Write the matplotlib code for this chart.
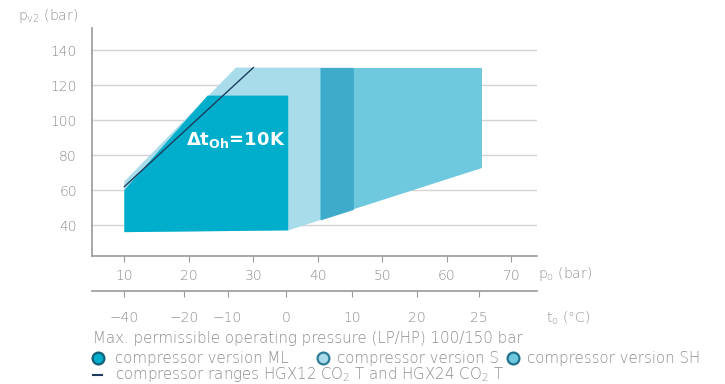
import numpy as np
import matplotlib.pyplot as plt
from matplotlib.lines import Line2D

plt.rcParams['font.family'] = ['DejaVu Sans']
plt.rcParams['font.weight'] = 'light'

# envelope corner points (p_o in bar, p_v2 in bar)
ml_x = [10, 10, 22.9, 35.4, 35.4]
ml_y = [36, 60, 114, 114, 37]
s_x = [10, 10, 27.3, 45.5, 45.5, 35.4]
s_y = [36, 65, 130, 130, 49, 37]
sh_x = [40.4, 40.4, 65.5, 65.5]
sh_y = [43, 130, 130, 72.6]
hgx_x = [10, 30]
hgx_y = [62, 130]

p_ticks = [10, 20, 30, 40, 50, 60, 70]
t_ticks = [-40, -20, -10, 0, 10, 20, 25]
t_pos = [10, 19.3, 26.0, 35.1, 45.3, 55.4, 65.0]  # p_o position of each t_o
y_ticks = [40, 60, 80, 100, 120, 140]

c_ml = '#00aecb'
c_s = '#a9dcea'
c_sh = '#6ec9de'
c_both = '#3fabcb'
c_line = '#1d3d5e'
gray = '#8c8c8c'

fig = plt.figure(figsize=(7.25, 3.84), dpi=100)
ax = fig.add_axes([0.127, 0.333, 0.614, 0.594])

ax.set_xlim(5, 74)
ax.set_ylim(22.3, 152.6)
for y in y_ticks:
    ax.axhline(y, color='#d3d3d3', lw=1, zorder=0)

ax.fill(s_x, s_y, color=c_s, lw=0, zorder=1)
ax.fill(sh_x, sh_y, color=c_sh, lw=0, zorder=2)
# overlap of S and SH
xo = np.array([sh_x[0], s_x[3]])
lo = np.interp(xo, [sh_x[0], sh_x[3]], [sh_y[0], sh_y[3]])
ax.fill_between(xo, lo, [130, 130], color=c_both, lw=0, zorder=3)
ax.fill(ml_x, ml_y, color=c_ml, lw=0, zorder=4)
ax.plot(hgx_x, hgx_y, color=c_line, lw=1, zorder=5)

ax.text(27.2, 88.6, r'$\mathbf{\Delta t_{Oh}}$=10K', color='white',
        fontsize=13, fontweight='bold', ha='center', va='center', zorder=6)

for sp in ['top', 'right']:
    ax.spines[sp].set_visible(False)
for sp in ['left', 'bottom']:
    ax.spines[sp].set_color('#9a9a9a')
    ax.spines[sp].set_linewidth(1.2)

ax.set_yticks(y_ticks)
ax.tick_params(axis='y', length=0, pad=11, labelsize=10, labelcolor=gray)
ax.set_xticks(p_ticks)
ax.tick_params(axis='x', length=4, color='#9a9a9a', pad=5, labelsize=10,
               labelcolor=gray)

ax2 = ax.twiny()
ax2.set_xlim(ax.get_xlim())
ax2.xaxis.set_ticks_position('bottom')
ax2.xaxis.set_label_position('bottom')
ax2.spines['bottom'].set_position(('outward', 25.2))
for sp in ['top', 'right', 'left']:
    ax2.spines[sp].set_visible(False)
ax2.spines['bottom'].set_color('#9a9a9a')
ax2.spines['bottom'].set_linewidth(1.2)
ax2.set_xticks(t_pos)
ax2.set_xticklabels([f'{t:d}'.replace('-', '\u2212') for t in t_ticks])
ax2.tick_params(axis='x', length=4, color='#9a9a9a', pad=10, labelsize=10,
                labelcolor=gray)

fig.text(18 / 725, 1 - 16 / 384, r'p$_{\mathregular{v2}}$ (bar)', color=gray,
         fontsize=10, va='center')
fig.text(538 / 725, 1 - 274 / 384, r'p$_{\mathregular{o}}$ (bar)', color=gray,
         fontsize=10, va='center')
fig.text(546 / 725, 1 - 318 / 384, 't$_{\\mathregular{o}}$ (°C)', color=gray,
         fontsize=10, va='center')

fs = 10.8
fig.text(93 / 725, 1 - 339 / 384,
         'Max. permissible operating pressure (LP/HP) 100/150 bar',
         color=gray, fontsize=fs, va='center')

leg_y = 1 - 358 / 384
items = [(98, 115, c_ml, '#135f78', 'compressor version ML'),
         (323, 337, c_s, '#2f7d96', 'compressor version S'),
         (513, 527, c_sh, '#22708c', 'compressor version SH')]
for xm, xt, fc, ec, label in items:
    fig.add_artist(Line2D([xm / 725], [leg_y], marker='o', markersize=8.5,
                          markerfacecolor=fc, markeredgecolor=ec,
                          markeredgewidth=1.6, linestyle='none',
                          transform=fig.transFigure))
    fig.text(xt / 725, leg_y, label, color=gray, fontsize=fs, va='center')

y3 = 1 - 375 / 384
fig.add_artist(Line2D([93 / 725, 102 / 725], [y3, y3], color=c_line, lw=1.5,
                      transform=fig.transFigure))
fig.text(115 / 725, y3,
         r'compressor ranges HGX12 CO$_{\mathregular{2}}$ T and HGX24 CO$_{\mathregular{2}}$ T',
         color=gray, fontsize=fs, va='center')

fig.savefig('out.png', dpi=100)
